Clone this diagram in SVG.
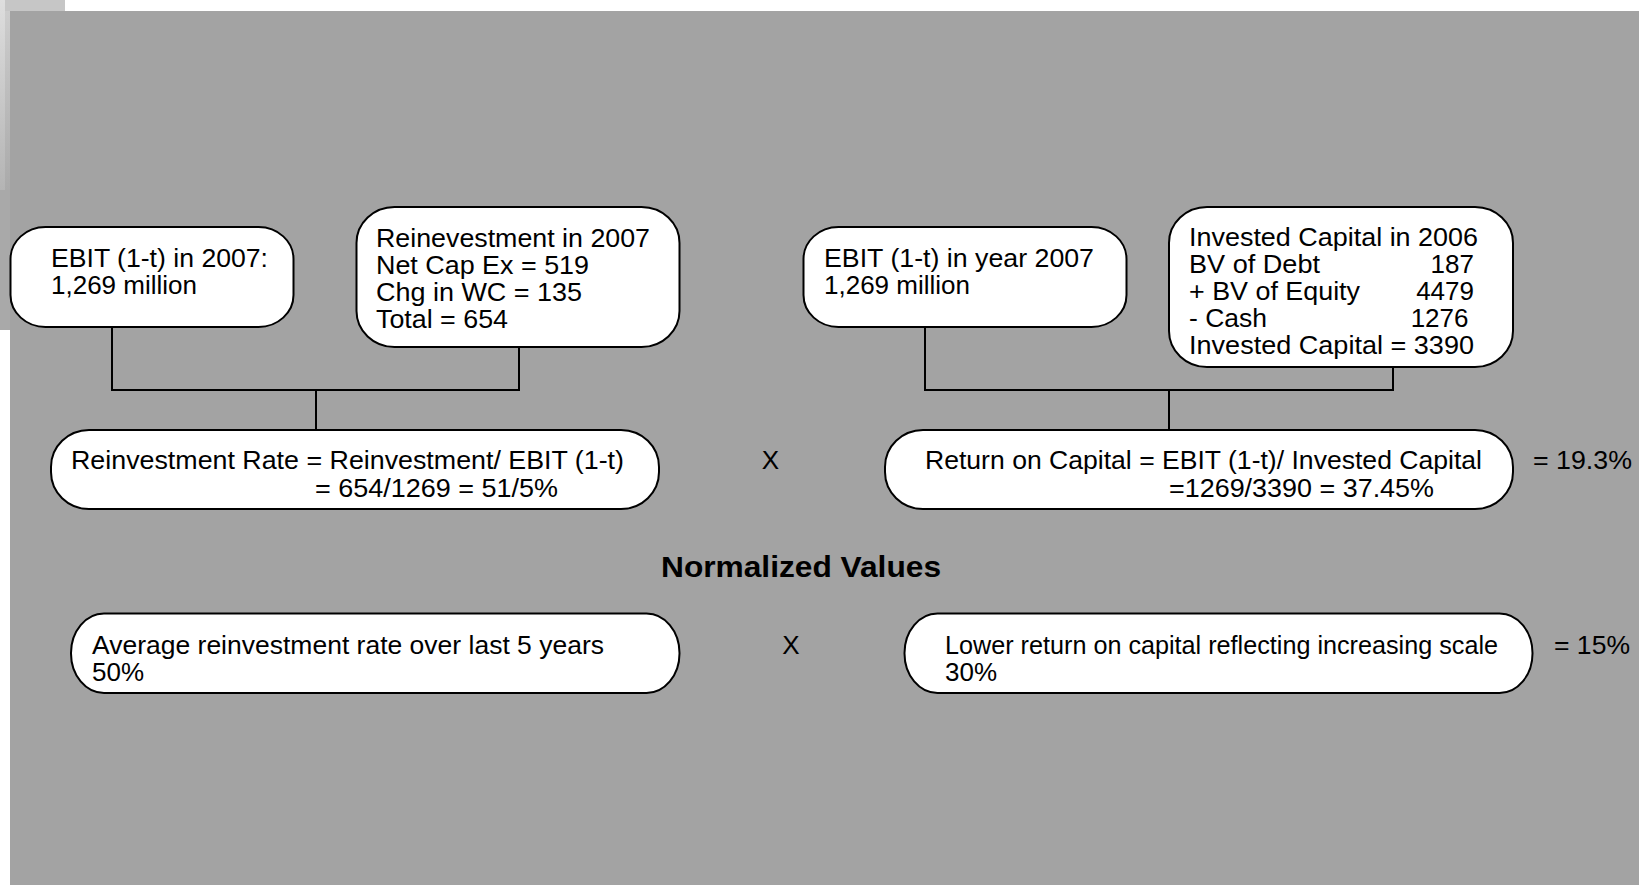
<svg xmlns="http://www.w3.org/2000/svg" width="1639" height="885" viewBox="0 0 1639 885">
<defs>
<linearGradient id="lg1" x1="0" y1="0" x2="0" y2="1"><stop offset="0" stop-color="#dedede"/><stop offset="1" stop-color="#b4b4b4"/></linearGradient>
<linearGradient id="lg2" x1="0" y1="0" x2="0" y2="1"><stop offset="0" stop-color="#cdcdcd"/><stop offset="1" stop-color="#aaaaaa"/></linearGradient>
</defs>
<style>
.box{fill:#ffffff;stroke:#000000;stroke-width:2}
.t{font-family:"Liberation Sans",Arial,sans-serif;font-size:26px;fill:#000000}
.b{font-family:"Liberation Sans",Arial,sans-serif;font-size:30px;font-weight:bold;fill:#000000}
.c{fill:none;stroke:#000000;stroke-width:2}
</style>
<rect x="0" y="0" width="1639" height="885" fill="#ffffff"/>
<rect x="0" y="0" width="65" height="11" fill="#c6c6c6"/>
<rect x="0" y="0" width="5" height="190" fill="url(#lg1)"/>
<rect x="5" y="11" width="5" height="179" fill="url(#lg2)"/>
<rect x="0" y="190" width="10" height="140" fill="#a9a9a9"/>
<rect x="10" y="11" width="1629" height="874" fill="#a3a3a3"/>

<g id="connectors">
<polyline class="c" points="112,327 112,390 519,390 519,347"/>
<line class="c" x1="316" y1="390" x2="316" y2="430"/>
<polyline class="c" points="925,327 925,390 1393,390 1393,367"/>
<line class="c" x1="1169" y1="390" x2="1169" y2="430"/>
</g>

<g id="ebit2007">
<rect class="box" x="10.5" y="227" width="283" height="100" rx="35" ry="32"/>
<text class="t" x="51" y="267" textLength="217" lengthAdjust="spacingAndGlyphs">EBIT (1-t) in 2007:</text>
<text class="t" x="51" y="294">1,269 million</text>
</g>

<g id="reinvestment2007">
<rect class="box" x="356.5" y="207" width="323" height="140" rx="38" ry="36"/>
<text class="t" x="376" y="247" textLength="274" lengthAdjust="spacingAndGlyphs">Reinevestment in 2007</text>
<text class="t" x="376" y="274" textLength="213" lengthAdjust="spacingAndGlyphs">Net Cap Ex = 519</text>
<text class="t" x="376" y="301" textLength="206" lengthAdjust="spacingAndGlyphs">Chg in WC = 135</text>
<text class="t" x="376" y="328" textLength="132" lengthAdjust="spacingAndGlyphs">Total = 654</text>
</g>

<g id="reinvestmentRate">
<rect class="box" x="51" y="430" width="608" height="79" rx="38" ry="37"/>
<text class="t" x="71" y="469" textLength="553" lengthAdjust="spacingAndGlyphs">Reinvestment Rate = Reinvestment/ EBIT (1-t)</text>
<text class="t" x="315" y="497" textLength="243" lengthAdjust="spacingAndGlyphs">= 654/1269 = 51/5%</text>
</g>

<g id="ebitYear2007">
<rect class="box" x="803.5" y="227" width="323" height="100" rx="35" ry="32"/>
<text class="t" x="824" y="267" textLength="270" lengthAdjust="spacingAndGlyphs">EBIT (1-t) in year 2007</text>
<text class="t" x="824" y="294">1,269 million</text>
</g>

<g id="investedCapital">
<rect class="box" x="1169" y="207" width="344" height="160" rx="38" ry="36"/>
<text class="t" x="1189" y="246" textLength="289" lengthAdjust="spacingAndGlyphs">Invested Capital in 2006</text>
<text class="t" x="1189" y="273" textLength="131" lengthAdjust="spacingAndGlyphs">BV of Debt</text>
<text class="t" x="1474" y="273" text-anchor="end">187</text>
<text class="t" x="1189" y="300" textLength="171" lengthAdjust="spacingAndGlyphs">+ BV of Equity</text>
<text class="t" x="1474" y="300" text-anchor="end">4479</text>
<text class="t" x="1189" y="327" textLength="78" lengthAdjust="spacingAndGlyphs">- Cash</text>
<text class="t" x="1468.5" y="327" text-anchor="end">1276</text>
<text class="t" x="1189" y="354" textLength="285" lengthAdjust="spacingAndGlyphs">Invested Capital = 3390</text>
</g>

<g id="returnOnCapital">
<rect class="box" x="885" y="430" width="628" height="79" rx="38" ry="37"/>
<text class="t" x="925" y="469" textLength="557" lengthAdjust="spacingAndGlyphs">Return on Capital = EBIT (1-t)/ Invested Capital</text>
<text class="t" x="1169" y="497" textLength="265" lengthAdjust="spacingAndGlyphs">=1269/3390 = 37.45%</text>
</g>

<g id="labels">
<text class="t" x="770.5" y="469" text-anchor="middle">X</text>
<text class="t" x="1533" y="469" textLength="99" lengthAdjust="spacingAndGlyphs">= 19.3%</text>
<text class="b" x="661" y="577" textLength="280" lengthAdjust="spacingAndGlyphs">Normalized Values</text>
<text class="t" x="791" y="654" text-anchor="middle">X</text>
<text class="t" x="1554" y="654" textLength="76" lengthAdjust="spacingAndGlyphs">= 15%</text>
</g>

<g id="avgReinvestment">
<rect class="box" x="71" y="613.5" width="608.5" height="79.5" rx="33" ry="39.5"/>
<text class="t" x="92" y="654" textLength="512" lengthAdjust="spacingAndGlyphs">Average reinvestment rate over last 5 years</text>
<text class="t" x="92" y="681">50%</text>
</g>

<g id="lowerReturn">
<rect class="box" x="904.5" y="613.5" width="628" height="79.5" rx="33" ry="39.5"/>
<text class="t" x="945" y="654" textLength="553" lengthAdjust="spacingAndGlyphs">Lower return on capital reflecting increasing scale</text>
<text class="t" x="945" y="681">30%</text>
</g>
</svg>
